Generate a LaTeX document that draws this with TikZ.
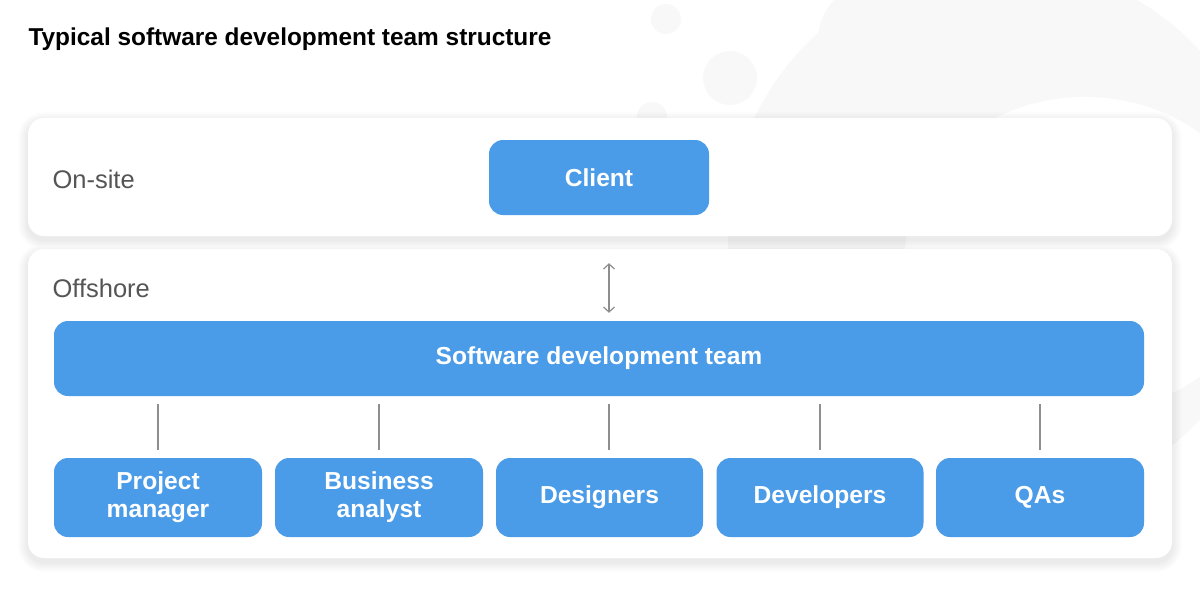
\documentclass[tikz,border=0pt]{standalone}
\usepackage{fontspec}
\setmainfont{Liberation Sans}
\usetikzlibrary{arrows.meta}
\definecolor{boxblue}{HTML}{4A9BE8}
\definecolor{labelgray}{HTML}{555555}
\definecolor{linegray}{HTML}{8E8E8E}
\definecolor{blobgray}{HTML}{F8F8F8}
\begin{document}
\begin{tikzpicture}[x=1pt, y=-1pt,
		panel/.style={fill=white, rounded corners=16pt},
		box/.style={fill=boxblue, rounded corners=14pt, text=white, align=center,
		font=\bfseries\fontsize{24.6}{28}\selectfont, inner sep=0pt},
		place/.style={anchor=west, text=labelgray, font=\fontsize{25.5}{28}\selectfont},
		link/.style={draw=linegray, line width=1.2pt, shorten <=8pt, shorten >=8pt} ]
	\useasboundingbox (0,0) rectangle (1200,600);
	% faint background blobs
	\fill[blobgray] (1000,235) circle [radius=272];
	\fill[white] (1085,255) ellipse [x radius=180, y radius=158];
	\fill[blobgray] (666,19) circle [radius=15] (730,78) circle [radius=27]
		(652,117) circle [radius=15] (815,135) circle [radius=60]
		(870,40) ellipse [x radius=52, y radius=55];
	% soft shadows under the panels
	\foreach \i in {1,...,10}
		\fill[black, opacity=0.009, rounded corners=16pt+\i pt]
			(28-\i,118-\i+4) rectangle (1172+\i,236+\i+4)
			(28-\i,249-\i+4) rectangle (1172+\i,558+\i+4);
	% panels
	\fill[panel] (28,118) rectangle (1172,236);
	\fill[panel] (28,249) rectangle (1172,558);
	\node[anchor=west, font=\bfseries\fontsize{24.4}{28}\selectfont] (title) at (25,39)
		{Typical software development team structure};
	\node[place] (onsite) at (49,179) {On-site};
	\node[place] (offshore) at (49,288) {Offshore};
	\node[box, minimum width=220pt, minimum height=75pt] (client) at (599,177.5) {Client};
	\node[box, minimum width=1090pt, minimum height=75pt] (sdt) at (599,358.5)
		{Software development team};
	\node[box, minimum width=208pt, minimum height=79pt] (pm) at (158,497.5)
		{Project\\manager};
	\node[box, minimum width=208pt, minimum height=79pt] (ba) at (379,497.5)
		{Business\\analyst};
	\node[box, minimum width=207pt, minimum height=79pt] (des) at (599.5,497.5) {Designers};
	\node[box, minimum width=207pt, minimum height=79pt] (dev) at (820,497.5) {Developers};
	\node[box, minimum width=208pt, minimum height=79pt] (qa) at (1040,497.5) {QAs};
	\coordinate (mid) at ([xshift=9.5pt]des.north);
	% links
	\draw[link, shorten <=48pt, {Straight Barb[length=5pt,width=11pt]}-{Straight Barb[length=5pt,width=11pt]}]
		(mid |- client.south) -- (mid |- sdt.north);
	\foreach \n in {pm, ba, dev, qa}
		\draw[link] (\n.north |- sdt.south) -- (\n.north);
	\draw[link] (mid |- sdt.south) -- (mid);
\end{tikzpicture}
\end{document}
